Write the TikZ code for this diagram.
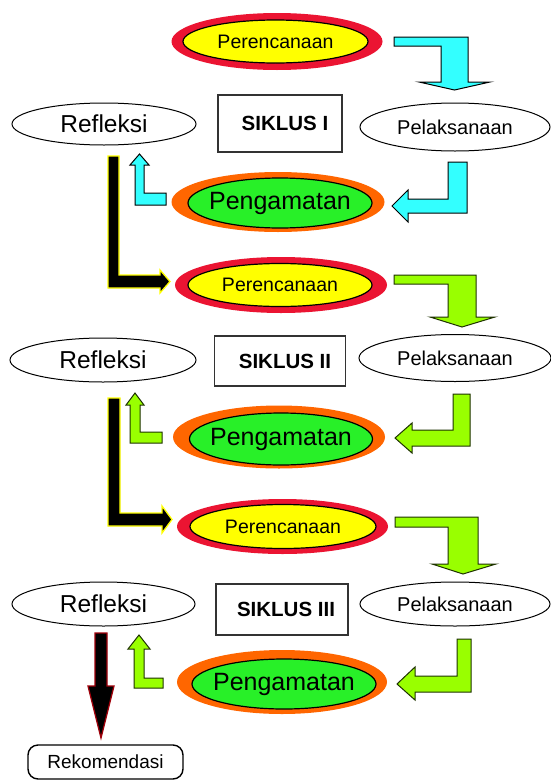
\documentclass[tikz,border=0pt]{standalone}
\usepackage{fontspec}
\setmainfont{Liberation Sans}
\usetikzlibrary{shapes.geometric}
\definecolor{cyanA}{RGB}{51,255,255}
\definecolor{limeA}{RGB}{153,255,0}
\definecolor{greenA}{RGB}{40,240,40}
\definecolor{orangeA}{RGB}{255,102,0}
\definecolor{redA}{RGB}{235,20,50}
\definecolor{yellowA}{RGB}{255,255,0}
\definecolor{darkredA}{RGB}{160,0,10}
\definecolor{limeline}{RGB}{30,50,0}
\tikzset{
  ell/.style={ellipse, draw=black, line width=1pt, inner sep=0pt, fill=white},
  planout/.style={ellipse, fill=redA, inner sep=0pt},
  planin/.style={ellipse, draw=black, line width=1.2pt, fill=yellowA, inner sep=0pt, font=\fontsize{19.5}{22}\selectfont},
  obsout/.style={ellipse, fill=orangeA, inner sep=0pt},
  obsin/.style={ellipse, draw=black, line width=1.2pt, fill=greenA, inner sep=0pt, font=\fontsize{25}{28}\selectfont},
  refl/.style={ell, font=\fontsize{24.5}{28}\selectfont},
  pel/.style={ell, font=\fontsize{20}{24}\selectfont},
  sbox/.style={draw=black!80, line width=1.3pt, inner sep=0pt, font=\fontsize{20.5}{24}\selectfont\bfseries},
  rekbox/.style={draw=black, line width=1.4pt, rounded corners=10pt, inner sep=0pt, font=\fontsize{19}{22}\selectfont},
  cyanarrow/.style={fill=cyanA, draw=black, line width=1pt},
  limearrow/.style={fill=limeA, draw=limeline, line width=1pt},
  blackarrow/.style={fill=black, draw=yellowA, line width=1.3pt},
  downarrow/.style={fill=black, draw=darkredA, line width=1.3pt},
}
\newcommand{\ctext}[1]{\makebox[0pt][c]{#1}}
\begin{document}
\begin{tikzpicture}[x=1pt,y=-1pt]
\fill[white] (0,0) rectangle (551,782);
\useasboundingbox (0,0) rectangle (551,782);

% ---------- Cycle I ----------
\node[planout, minimum width=211, minimum height=57] (p1o) at (277,41.5) {};
\node[planin, minimum width=185, minimum height=43] (p1) at (275.5,41.5) {\ctext{Perencanaan}};
\node[refl, minimum width=184, minimum height=42] (r1) at (104,124) {\ctext{Refleksi}};
\node[sbox, minimum width=124, minimum height=57] (s1) at (280,123.5) {\hspace{10pt}SIKLUS I};
\node[pel, minimum width=190, minimum height=48] (l1) at (455,127) {\ctext{Pelaksanaan}};
\node[obsout, minimum width=213, minimum height=60] (o1o) at (278,202) {};
\node[obsin, minimum width=184, minimum height=50] (o1) at (280,203) {\ctext{Pengamatan}};

\draw[cyanarrow] (394,37) -- (468,37) -- (468,82) -- (490,82) -- (454.5,90) -- (419,82) -- (441,82) -- (441,46) -- (394,46) -- cycle;
\draw[cyanarrow] (448,162) -- (467,162) -- (467,213) -- (408,213) -- (408,222) -- (392,206) -- (408,190) -- (408,199) -- (448,199) -- cycle;
\draw[cyanarrow] (166,193) -- (166,205) -- (135,205) -- (135,165) -- (130,165) -- (139.5,154) -- (149,165) -- (144,165) -- (144,193) -- cycle;
\draw[blackarrow] (108,156) -- (119,156) -- (119,275) -- (160,275) -- (160,270) -- (170,281.5) -- (160,293) -- (160,288) -- (108,288) -- cycle;

% ---------- Cycle II ----------
\node[planout, minimum width=212, minimum height=56] (p2o) at (281,285) {};
\node[planin, minimum width=184, minimum height=43] (p2) at (280,285) {\ctext{Perencanaan}};
\node[refl, minimum width=186, minimum height=44] (r2) at (103,360) {\ctext{Refleksi}};
\node[sbox, minimum width=131, minimum height=50] (s2) at (280,361) {\hspace{10pt}SIKLUS II};
\node[pel, minimum width=192, minimum height=47] (l2) at (455,358) {\ctext{Pelaksanaan}};
\node[obsout, minimum width=212, minimum height=63] (o2o) at (279,437) {};
\node[obsin, minimum width=183, minimum height=52] (o2) at (281,439) {\ctext{Pengamatan}};

\draw[limearrow] (394,275) -- (476,275) -- (476,317) -- (495,317) -- (462,327) -- (430,317) -- (448,317) -- (448,284) -- (394,284) -- cycle;
\draw[limearrow] (453,394) -- (470,394) -- (470,446) -- (412,446) -- (412,453) -- (395,438) -- (412,423) -- (412,430) -- (453,430) -- cycle;
\draw[limearrow] (162,432) -- (162,443) -- (130,443) -- (130,405) -- (126,405) -- (135,393) -- (144,405) -- (140,405) -- (140,432) -- cycle;
\draw[blackarrow] (108,398) -- (120,398) -- (120,513) -- (162,513) -- (162,506) -- (172,519.5) -- (162,533) -- (162,526) -- (108,526) -- cycle;

% ---------- Cycle III ----------
\node[planout, minimum width=211, minimum height=55] (p3o) at (282.5,526.5) {};
\node[planin, minimum width=186, minimum height=44] (p3) at (283,526.5) {\ctext{Perencanaan}};
\node[refl, minimum width=183, minimum height=44] (r3) at (103.5,604) {\ctext{Refleksi}};
\node[sbox, minimum width=132, minimum height=51] (s3) at (282,609.5) {\hspace{8pt}SIKLUS III};
\node[pel, minimum width=190, minimum height=44] (l3) at (455,604) {\ctext{Pelaksanaan}};
\node[obsout, minimum width=210, minimum height=64] (o3o) at (282,682) {};
\node[obsin, minimum width=184, minimum height=50] (o3) at (284,684) {\ctext{Pengamatan}};

\draw[limearrow] (395,517) -- (478,517) -- (478,564) -- (496,564) -- (463,574) -- (432,564) -- (448,564) -- (448,527) -- (395,527) -- cycle;
\draw[limearrow] (457,639) -- (471,639) -- (471,692) -- (415,692) -- (415,700) -- (397,684) -- (415,667) -- (415,676) -- (457,676) -- cycle;
\draw[limearrow] (163,678) -- (163,688) -- (134,688) -- (134,649) -- (128,649) -- (139,635) -- (150,649) -- (144,649) -- (144,678) -- cycle;

\node[rekbox, minimum width=155, minimum height=34] (rk) at (105.5,762) {Rekomendasi};
\draw[downarrow] (95,633) -- (107,633) -- (107,686) -- (114,686) -- (101,738) -- (88,686) -- (95,686) -- cycle;
\end{tikzpicture}
\end{document}
